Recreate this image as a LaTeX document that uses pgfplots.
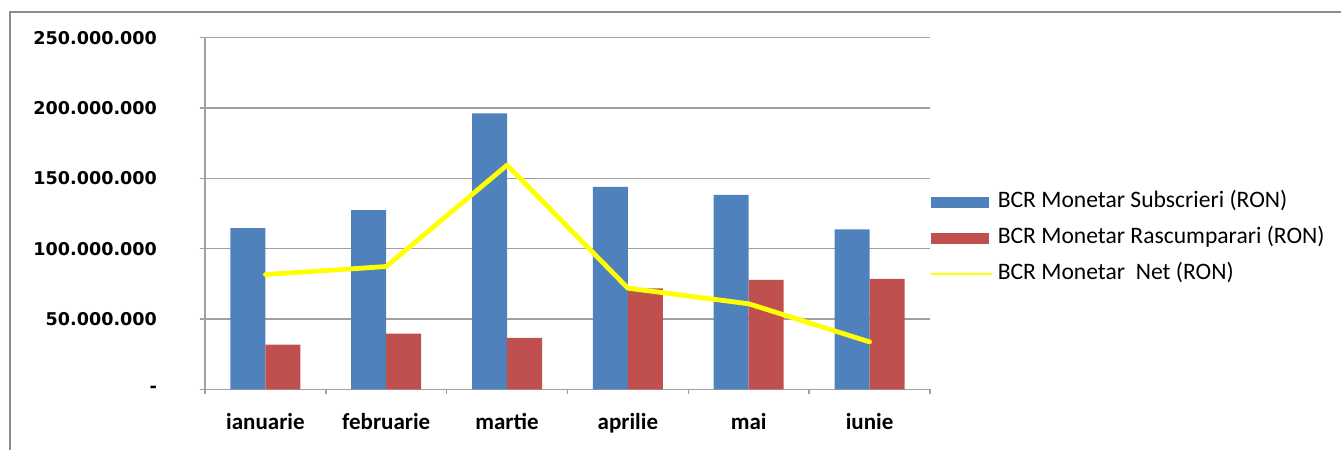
\documentclass[border=0pt]{standalone}
\usepackage{fontspec}
\setmainfont{Carlito}
\newfontfamily\tickfont{DejaVu Sans}
\usepackage{pgfplots}
\pgfplotsset{compat=1.18}
\definecolor{cblue}{HTML}{4F81BD}
\definecolor{cred}{HTML}{C0504D}
\definecolor{cyel}{HTML}{FFFF00}
\definecolor{cgrid}{HTML}{A0A0A0}
\definecolor{cframe}{HTML}{8C8C8C}
\begin{document}
\begin{tikzpicture}
\useasboundingbox (0pt,0pt) rectangle (670.5pt,225pt);
\draw[cframe, line width=1.1pt] (5pt,-3pt) -- (5pt,219pt) -- (673pt,219pt);
\begin{axis}[
  at={(102.5pt,30.35pt)}, anchor=south west,
  width=362.5pt, height=175.8pt, scale only axis,
  xmin=-0.5, xmax=5.5, ymin=0, ymax=250000000,
  scaled y ticks=false,
  axis x line*=bottom, axis y line*=left,
  axis line style={cgrid, line width=0.75pt},
  ymajorgrids, grid style={cgrid, line width=0.75pt},
  tick align=outside, major tick length=2.5pt,
  tick style={cgrid, line width=0.75pt},
  xtick={-0.5,0.5,1.5,2.5,3.5,4.5,5.5}, xticklabels={},
  extra x ticks={0,1,2,3,4,5},
  extra x tick labels={ianuarie,februarie,martie,aprilie,mai,iunie},
  extra x tick style={major tick length=0pt,
    tick label style={font=\bfseries\fontsize{11.5}{13}\selectfont, yshift=-8.5pt}},
  ytick={0,50000000,100000000,150000000,200000000,250000000},
  yticklabels={-,50.000.000,100.000.000,150.000.000,200.000.000,250.000.000},
  yticklabel style={font=\tickfont\bfseries\fontsize{8.8}{10}\selectfont, xshift=-18pt},
  legend style={at={(1,0.430)}, anchor=west, draw=none, fill=none, inner sep=0pt,
    row sep=8.5pt, font=\fontsize{11.8}{13}\selectfont,
    nodes={inner sep=0pt, text height=7.5pt, text depth=2pt}},
  legend cell align=left,
]
\addplot[ybar, bar width=17.5pt, bar shift=-8.75pt, fill=cblue, draw=none,
  legend image code/.code={\fill[cblue] (0,-2.75pt) rectangle (29pt,2.75pt); \path (32pt,0);}]
  coordinates {(0,114600000) (1,127400000) (2,196200000) (3,143900000) (4,138200000) (5,113700000)};
\addlegendentry{BCR Monetar Subscrieri (RON)}
\addplot[ybar, bar width=17.5pt, bar shift=8.75pt, fill=cred, draw=none,
  legend image code/.code={\fill[cred] (0,-2.75pt) rectangle (29pt,2.75pt); \path (32pt,0);}]
  coordinates {(0,31800000) (1,39600000) (2,36600000) (3,71700000) (4,77800000) (5,78500000)};
\addlegendentry{BCR Monetar Rascumparari (RON)}
\addplot[cyel, line width=2.4pt, line join=round, line cap=round, mark=none,
  legend image code/.code={\draw[cyel, line width=1pt] (0,0) -- (30pt,0); \path (32pt,0);}]
  coordinates {(0,81600000) (1,87300000) (2,159400000) (3,71900000) (4,60800000) (5,33700000)};
\addlegendentry{BCR Monetar~ Net (RON)}
\end{axis}
\end{tikzpicture}
\end{document}
